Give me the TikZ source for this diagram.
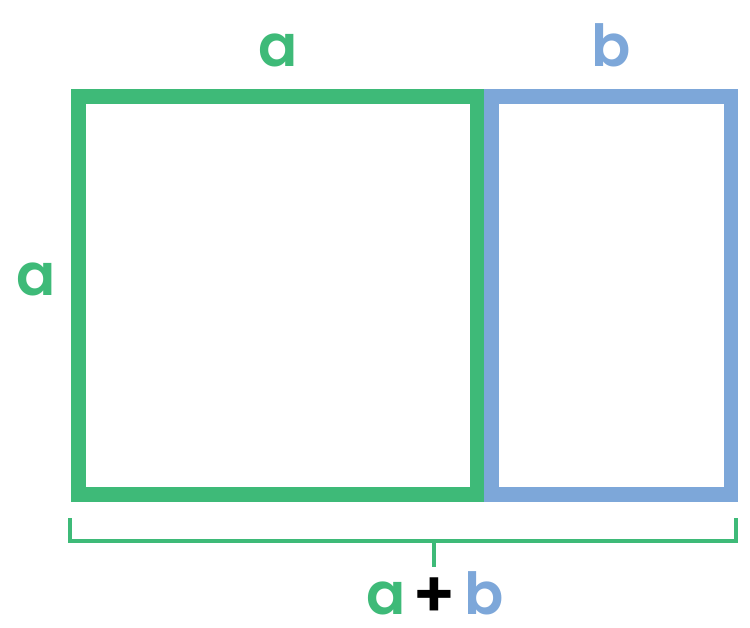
\documentclass[tikz,border=0pt]{standalone}
\usepackage{fontspec}
\setmainfont{Poppins}
\newfontfamily\lblfont{Poppins SemiBold}
\definecolor{sqgreen}{HTML}{3EBA78}
\definecolor{rcblue}{HTML}{7DA7D9}
\tikzset{
  side/.style={line width=8.5pt, line join=miter},
  lbl/.style={anchor=base, inner sep=0pt, text depth=0pt,
    font=\lblfont\fontsize{33}{33}\selectfont}
}
\begin{document}
\begin{tikzpicture}[x=0.02cm, y=-0.02cm]
    \useasboundingbox (0,0) rectangle (750,628);

    % square and rectangle
    \draw[side, rcblue] (491.5,96.5) rectangle (731,494.7);
    \draw[side, sqgreen] (78.5,96.5) rectangle (477,494.7);

    % bracket underneath
    \coordinate (bl) at (70,518);
    \coordinate (br) at (736,518);
    \coordinate (bm) at (434,541);
    \coordinate (bt) at (434,567);
    \draw[sqgreen, line width=2.2pt] (bl) -- (70,541) -- (736,541) -- (br);
    \draw[sqgreen, line width=1.8pt] (bm) -- (bt);

    % labels
    \node[lbl, text=sqgreen] (topa) at (278,66.7) {a};
    \node[lbl, text=rcblue] (topb) at (611,66.7) {b};
    \node[lbl, text=sqgreen] (lefta) at (36,295) {a};
    \node[lbl, text=sqgreen] (suma) at (386,614) {a};
    \node[lbl, text=black, font=\lblfont\fontsize{37}{37}\selectfont] (plus) at (434.5,617) {+};
    \node[lbl, text=rcblue] (sumb) at (484,614) {b};
\end{tikzpicture}
\end{document}
